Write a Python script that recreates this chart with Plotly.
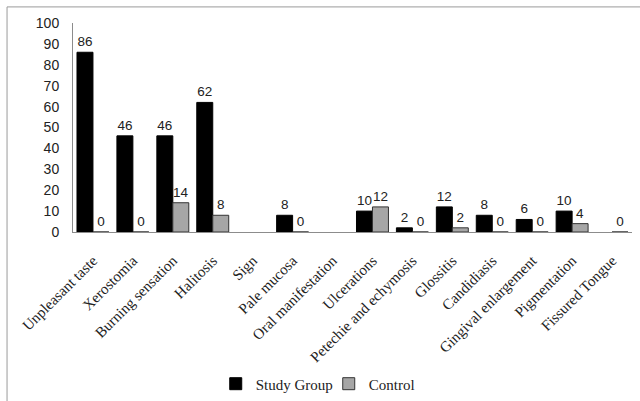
import plotly.graph_objects as go

categories = ["Unpleasant taste", "Xerostomia", "Burning sensation", "Halitosis", "Sign",
              "Pale mucosa", "Oral manifestation", "Ulcerations", "Petechie and echymosis",
              "Glossitis", "Candidiasis", "Gingival enlargement", "Pigmentation", "Fissured Tongue"]
study_group = [86, 46, 46, 62, None, 8, None, 10, 2, 12, 8, 6, 10, None]
control = [0, 0, 14, 8, None, 0, None, 12, 0, 2, 0, 0, 4, 0]
y_ticks = list(range(0, 101, 10))

label_font = dict(family="Liberation Sans", size=13.5, color="#222222")
serif = dict(family="Liberation Serif", size=15, color="#222222")

fig = go.Figure()
fig.add_trace(go.Bar(
    name="Study Group", x=categories, y=study_group,
    marker=dict(color="#000000", line=dict(color="#000000", width=1)),
    text=[("" if v is None else str(v)) for v in study_group],
    textposition="outside", textfont=label_font, cliponaxis=False,
))
fig.add_trace(go.Bar(
    name="Control", x=categories, y=control,
    marker=dict(color="#a6a6a6", line=dict(color="#333333", width=1)),
    text=[("" if v is None else str(v)) for v in control],
    textposition="outside", textfont=label_font, cliponaxis=False,
))

fig.update_layout(
    width=640, height=401,
    margin=dict(l=73, r=8, t=23, b=169, autoexpand=False),
    paper_bgcolor="white", plot_bgcolor="white",
    barmode="group", bargap=0.2, bargroupgap=0,
    showlegend=True,
    legend=dict(orientation="h", x=0.4575, xanchor="center", y=-0.727, yanchor="middle",
                font=serif, itemwidth=30, entrywidth=68, traceorder="normal"),
    xaxis=dict(showline=True, linecolor="#8c8c8c", linewidth=1, tickangle=-45,
               tickfont=serif, ticks="", showgrid=False, automargin=False,
               ticklabelstandoff=13),
    yaxis=dict(range=[0, 100], tickvals=y_ticks, showline=True, linecolor="#8c8c8c",
               linewidth=1, showgrid=False, ticks="", zeroline=False, automargin=False,
               ticklabelstandoff=10,
               tickfont=dict(family="Liberation Sans", size=14, color="#222222")),
    shapes=[dict(type="rect", xref="paper", yref="paper",
                 x0=-0.118, y0=-1.2, x1=1.1, y1=1.077,
                 line=dict(color="#9a9a9a", width=1))],
)

fig.write_html("out.html")
